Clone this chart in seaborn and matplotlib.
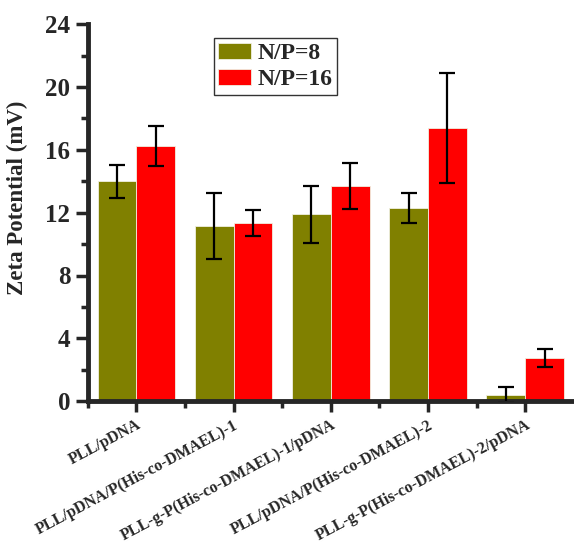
import numpy as np
import pandas as pd
import matplotlib
matplotlib.use("Agg")
import matplotlib.pyplot as plt
import seaborn as sns

# ---- data ----
samples = ['PLL/pDNA',
           'PLL/pDNA/P(His-co-DMAEL)-1',
           'PLL-g-P(His-co-DMAEL)-1/pDNA',
           'PLL/pDNA/P(His-co-DMAEL)-2',
           'PLL-g-P(His-co-DMAEL)-2/pDNA']
groups = ['N/P=8', 'N/P=16']
zeta_np8 = [14.0, 11.15, 11.9, 12.3, 0.4]
zeta_np16 = [16.25, 11.35, 13.7, 17.4, 2.75]
err_np8 = [1.05, 2.1, 1.8, 0.95, 0.5]
err_np16 = [1.3, 0.85, 1.45, 3.5, 0.55]
colors = ['#808000', '#FF0000']

df = pd.DataFrame({
    'Sample': samples * 2,
    'Group': [groups[0]] * len(samples) + [groups[1]] * len(samples),
    'Zeta': zeta_np8 + zeta_np16,
})
errs = {groups[0]: err_np8, groups[1]: err_np16}

sns.set_style('ticks')
plt.rcParams['font.family'] = ['Liberation Serif', 'DejaVu Serif']
plt.rcParams['font.weight'] = 'bold'

fig = plt.figure(figsize=(5.74, 5.51), dpi=100)
ax = fig.add_axes([0.153, 0.272, 0.85, 0.684])

sns.barplot(data=df, x='Sample', y='Zeta', hue='Group', order=samples,
            hue_order=groups, palette=colors, saturation=1, errorbar=None,
            width=0.8, edgecolor='#f0f0e0', linewidth=0.6, ax=ax)

# error bars placed on the seaborn bars
for cont, g in zip(ax.containers, groups):
    xs = [b.get_x() + b.get_width() / 2 for b in cont]
    ys = [b.get_height() for b in cont]
    ax.errorbar(xs, ys, yerr=errs[g], fmt='none', ecolor='black',
                elinewidth=1.6, capsize=6, capthick=1.6, zorder=5)

ax.set_ylim(0, 24)
ax.set_xlim(-0.5, 4.52)
ax.set_yticks(np.arange(0, 25, 4))
ax.set_yticks(np.arange(2, 24, 4), minor=True)
ax.set_xticks(np.arange(-0.5, 4.5, 1), minor=True)

ax.set_xlabel('')
ax.set_ylabel('Zeta Potential (mV)', fontsize=16.5, fontweight='bold')
ax.yaxis.set_label_coords(-0.123, 0.54)

ax.tick_params(axis='y', which='major', labelsize=18, length=9, width=2.5)
ax.tick_params(axis='y', which='minor', length=5, width=2.5)
ax.tick_params(axis='x', which='major', labelsize=11.5, length=8, width=2.5)
ax.tick_params(axis='x', which='minor', length=5, width=2.5)
for lab in ax.get_yticklabels():
    lab.set_fontweight('bold')
for lab in ax.get_xticklabels():
    lab.set_fontweight('bold')
    lab.set_rotation(28)
    lab.set_ha('right')
    lab.set_rotation_mode('anchor')

sns.despine(ax=ax)
for s in ['left', 'bottom']:
    ax.spines[s].set_linewidth(3.5)

leg = ax.legend(loc='upper left', bbox_to_anchor=(0.258, 0.964), frameon=True,
                fancybox=False, edgecolor='black', prop={'size': 17, 'weight': 'bold'},
                handlelength=1.4, handleheight=0.7, borderpad=0.2,
                labelspacing=0.2, handletextpad=0.25, borderaxespad=0)
leg.get_frame().set_linewidth(1.0)

plt.savefig('out.png', dpi=100)
